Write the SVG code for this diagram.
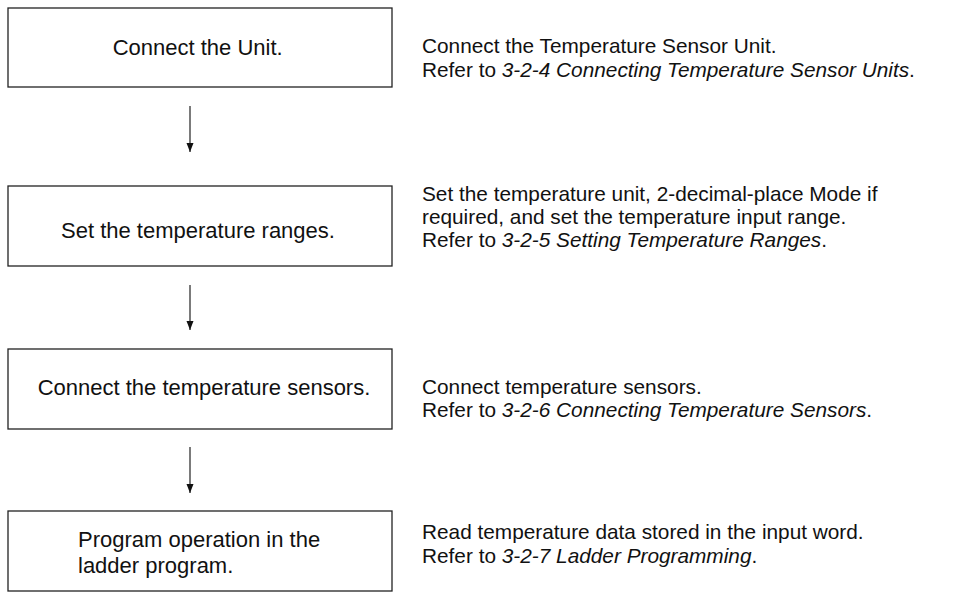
<svg xmlns="http://www.w3.org/2000/svg" width="954" height="595" viewBox="0 0 954 595">
<style>
.box{fill:#fff;stroke:#222;stroke-width:1.3}
.bt{font-family:"Liberation Sans",Arial,sans-serif;font-size:22px;fill:#111}
.rt{font-family:"Liberation Sans",Arial,sans-serif;font-size:20.8px;fill:#111}
.it{font-style:italic}
.conn{stroke:#222;stroke-width:1.2;fill:none;marker-end:url(#ah)}
</style>
<defs>
<marker id="ah" markerUnits="userSpaceOnUse" markerWidth="10" markerHeight="8" refX="9" refY="3.5" orient="auto" viewBox="0 0 10 7">
<path d="M0,0 L9,3.5 L0,7 Z" fill="#111"/>
</marker>
</defs>
<rect width="954" height="595" fill="#fff"/>
<g id="step1">
<rect class="box" x="8" y="8" width="384" height="79"/>
<text class="bt" x="112.7" y="55">Connect the Unit.</text>
</g>
<g id="note1">
<text class="rt" x="422" y="53">Connect the Temperature Sensor Unit.</text>
<text class="rt" x="422" y="76.5">Refer to <tspan class="it">3-2-4 Connecting Temperature Sensor Units</tspan>.</text>
</g>
<g id="step2">
<rect class="box" x="8" y="186" width="384" height="80"/>
<text class="bt" x="61" y="237.5">Set the temperature ranges.</text>
</g>
<g id="note2">
<text class="rt" x="422" y="200.5">Set the temperature unit, 2-decimal-place Mode if</text>
<text class="rt" x="422" y="223.5">required, and set the temperature input range.</text>
<text class="rt" x="422" y="246.5">Refer to <tspan class="it">3-2-5 Setting Temperature Ranges</tspan>.</text>
</g>
<g id="step3">
<rect class="box" x="8" y="349" width="384" height="80"/>
<text class="bt" x="37.7" y="395">Connect the temperature sensors.</text>
</g>
<g id="note3">
<text class="rt" x="422" y="394">Connect temperature sensors.</text>
<text class="rt" x="422" y="417">Refer to <tspan class="it">3-2-6 Connecting Temperature Sensors</tspan>.</text>
</g>
<g id="step4">
<rect class="box" x="8" y="511" width="384" height="80"/>
<text class="bt" x="78" y="547">Program operation in the</text>
<text class="bt" x="78" y="573">ladder program.</text>
</g>
<g id="note4">
<text class="rt" x="422" y="539">Read temperature data stored in the input word.</text>
<text class="rt" x="422" y="562.5">Refer to <tspan class="it">3-2-7 Ladder Programming</tspan>.</text>
</g>
<g id="connectors">
<line class="conn" x1="190" y1="106" x2="190" y2="152"/>
<line class="conn" x1="190" y1="285" x2="190" y2="330"/>
<line class="conn" x1="190" y1="447" x2="190" y2="493"/>
</g>
</svg>
